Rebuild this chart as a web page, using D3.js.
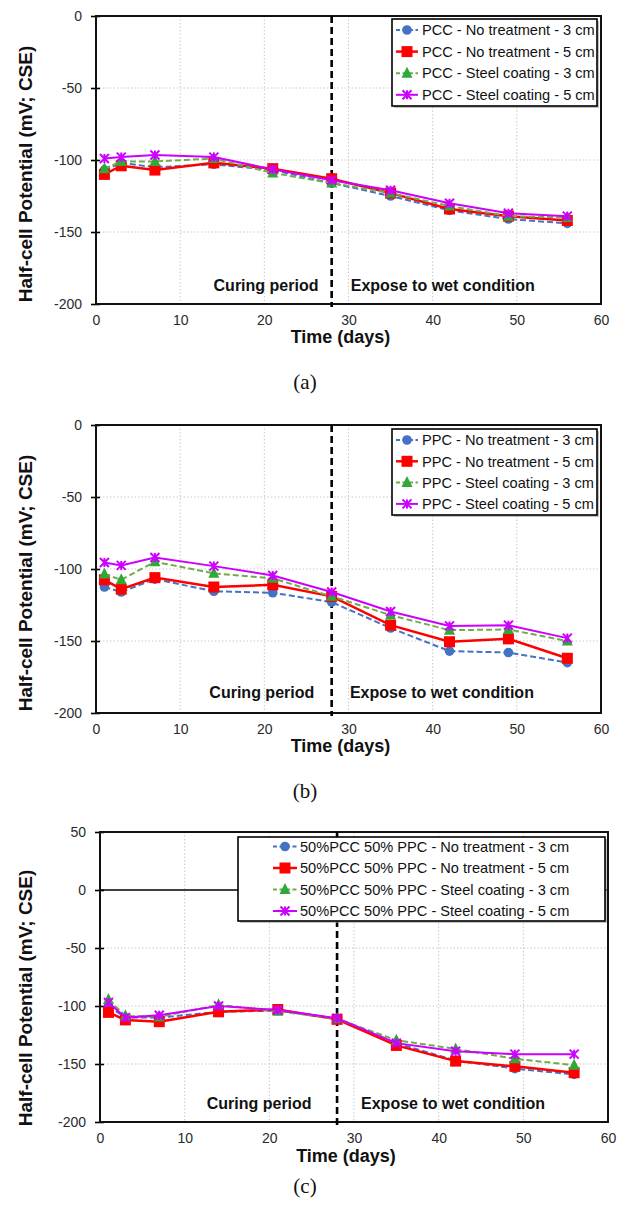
<!DOCTYPE html>
<html>
<head>
<meta charset="utf-8">
<script src="https://cdn.jsdelivr.net/npm/d3@7"></script>
<style>
body{margin:0;background:#fff;}
svg text{font-family:"Liberation Sans",Arial,sans-serif;}
</style>
</head>
<body>
<div id="chart"></div>
<script>
// data
var days=[1,3,7,14,21,28,35,42,49,56];
var xTicks=[0,10,20,30,40,50,60];
var yTicksAB=[0,-50,-100,-150,-200];
var yTicksC=[50,0,-50,-100,-150,-200];

var pccNo3=[-107,-102,-105,-103,-107,-116,-125,-135,-141,-144];
var pccNo5=[-110,-104,-107,-102,-106,-113,-123,-134,-139,-142];
var pccSc3=[-106,-101,-101,-99,-109,-116,-123,-132,-139,-140];
var pccSc5=[-99,-98,-96.5,-98,-106.5,-114,-121,-130,-137,-139];

var ppcNo3=[-112.5,-116,-107,-115.5,-116.5,-123,-141,-157,-158,-165];
var ppcNo5=[-107.5,-114,-106,-112.5,-111,-119,-139,-150.5,-148.5,-162];
var ppcSc3=[-103.5,-107.5,-95,-103,-106.5,-119,-132,-142.5,-142,-150];
var ppcSc5=[-95.5,-97.5,-92,-98,-104.5,-116,-129.5,-139.5,-139,-148];

var mixNo3=[-100,-110,-110,-105,-104,-111,-132,-147,-154,-159];
var mixNo5=[-105.5,-112,-113.5,-105,-103,-111.5,-134,-147.5,-152,-157.5];
var mixSc3=[-94.5,-108.5,-109.5,-99,-104.5,-111,-129.5,-137,-145.5,-151];
var mixSc5=[-97,-110,-108,-100,-103.5,-110.5,-132,-139,-141.5,-141.5];

var legendA=["PCC - No treatment - 3 cm","PCC - No treatment - 5 cm","PCC - Steel coating - 3 cm","PCC - Steel coating - 5 cm"];
var legendB=["PPC - No treatment - 3 cm","PPC - No treatment - 5 cm","PPC - Steel coating - 3 cm","PPC - Steel coating - 5 cm"];
var legendC=["50%PCC 50% PPC - No treatment - 3 cm","50%PCC 50% PPC - No treatment - 5 cm","50%PCC 50% PPC - Steel coating - 3 cm","50%PCC 50% PPC - Steel coating - 5 cm"];

var phaseDay=28;
var notes=["Curing period","Expose to wet condition"];
var yTitle="Half-cell Potential (mV; CSE)";
var xTitle="Time (days)";
var captions=["(a)","(b)","(c)"];

// series look (blue dashed circle, red square, green dashed triangle, violet star)
var styles=[
	{line:"#4472C4",fill:"#4472C4",dash:"6,3",width:2,marker:"circle"},
	{line:"#FF0000",fill:"#FF0000",dash:null,width:2.5,marker:"square"},
	{line:"#70AD47",fill:"#2EA836",dash:"6,3",width:2,marker:"triangle"},
	{line:"#CC00FF",fill:"#CC00FF",dash:null,width:2,marker:"star"}
];

var panels=[
	{series:[pccNo3,pccNo5,pccSc3,pccSc5],names:legendA,yDomain:[-200,0],yTicks:yTicksAB,
	 left:96,right:601,top:16,bottom:304,
	 leg:{x:392,y:19,w:205,h:87,lineX:396,lineW:22,textX:422,row0:30,rowH:21.6},
	 noteX:[20.2,41.2],noteY:-187,titleY:174,xTitleY:337,capY:382},
	{series:[ppcNo3,ppcNo5,ppcSc3,ppcSc5],names:legendB,yDomain:[-200,0],yTicks:yTicksAB,
	 left:96,right:601,top:425,bottom:713,
	 leg:{x:392,y:429,w:205,h:86,lineX:396,lineW:22,textX:422,row0:440,rowH:21.3},
	 noteX:[19.7,41.1],noteY:-186,titleY:583,xTitleY:746,capY:791},
	{series:[mixNo3,mixNo5,mixSc3,mixSc5],names:legendC,yDomain:[-200,50],yTicks:yTicksC,
	 left:100,right:608,top:832,bottom:1122,
	 leg:{x:238,y:837,w:367,h:84,lineX:273,lineW:24,textX:300,row0:846.5,rowH:21.5},
	 noteX:[18.8,41.7],noteY:-184,titleY:998,xTitleY:1156,capY:1186}
];

var svg=d3.select("#chart").append("svg").attr("width",625).attr("height",1211);

function plain(d){ return String(d); }

function drawMarker(g,kind,cx,cy,st){
	if(kind=="circle"){
		g.append("circle").attr("cx",cx).attr("cy",cy).attr("r",4.8).attr("fill",st.fill);
	}else if(kind=="square"){
		g.append("rect").attr("x",cx-5.5).attr("y",cy-5.5).attr("width",11).attr("height",11).attr("fill",st.fill);
	}else if(kind=="triangle"){
		g.append("path").attr("d","M"+cx+","+(cy-6.5)+"L"+(cx+5.5)+","+(cy+4.5)+"L"+(cx-5.5)+","+(cy+4.5)+"Z").attr("fill",st.fill);
	}else{
		var s=4.5;
		g.append("path")
			.attr("d","M"+(cx-s)+","+(cy-s)+"L"+(cx+s)+","+(cy+s)+"M"+(cx+s)+","+(cy-s)+"L"+(cx-s)+","+(cy+s)+"M"+cx+","+(cy-s)+"L"+cx+","+(cy+s))
			.attr("stroke",st.fill).attr("stroke-width",2).attr("fill","none");
	}
}

function drawPanel(p,idx){
	var x=d3.scaleLinear().domain([0,60]).range([p.left,p.right]);
	var y=d3.scaleLinear().domain(p.yDomain).range([p.bottom,p.top]);
	var g=svg.append("g");

	// dotted grid
	g.selectAll(".gx").data(xTicks.slice(1,-1)).enter().append("line")
		.attr("x1",function(d){return x(d);}).attr("x2",function(d){return x(d);})
		.attr("y1",p.top).attr("y2",p.bottom)
		.attr("stroke","#c9c9c9").attr("stroke-width",1).attr("stroke-dasharray","1.5,2");
	g.selectAll(".gy").data(p.yTicks.filter(function(d){return d!=0&&d!=p.yDomain[0]&&d!=p.yDomain[1];})).enter().append("line")
		.attr("x1",p.left).attr("x2",p.right)
		.attr("y1",function(d){return y(d);}).attr("y2",function(d){return y(d);})
		.attr("stroke","#c9c9c9").attr("stroke-width",1).attr("stroke-dasharray","1.5,2");

	// zero line
	g.append("line").attr("x1",p.left).attr("x2",p.right).attr("y1",y(0)).attr("y2",y(0))
		.attr("stroke","#000").attr("stroke-width",1.6);

	// axes
	var ya=g.append("g").attr("transform","translate("+p.left+",0)")
		.call(d3.axisLeft(y).tickValues(p.yTicks).tickFormat(plain).tickSize(5).tickPadding(9));
	ya.select(".domain").remove();
	ya.selectAll(".tick line").attr("x1",4).attr("stroke","#000").attr("stroke-width",1.6);
	ya.selectAll(".tick text").attr("font-size",14).attr("fill","#2a2a2a").attr("font-family","Liberation Sans, Arial, sans-serif");

	var xa=g.append("g").attr("transform","translate(0,"+p.bottom+")")
		.call(d3.axisBottom(x).tickValues(xTicks).tickFormat(plain).tickSize(0).tickPadding(11));
	xa.select(".domain").remove();
	xa.selectAll(".tick text").attr("font-size",14).attr("fill","#2a2a2a").attr("font-family","Liberation Sans, Arial, sans-serif");

	// plot border
	g.append("rect").attr("x",p.left).attr("y",p.top).attr("width",p.right-p.left).attr("height",p.bottom-p.top)
		.attr("fill","none").attr("stroke","#111").attr("stroke-width",2);

	// phase divider
	g.append("line").attr("x1",x(phaseDay)).attr("x2",x(phaseDay)).attr("y1",p.top).attr("y2",p.bottom+3)
		.attr("stroke","#000").attr("stroke-width",2.6).attr("stroke-dasharray","7,4");

	// notes
	for(var n=0;n<notes.length;n++){
		g.append("text").attr("x",x(p.noteX[n])).attr("y",y(p.noteY)).attr("dy","0.35em")
			.attr("text-anchor","middle").attr("font-family","Lato, sans-serif").attr("font-weight","bold")
			.attr("font-size",16).attr("fill","#111").text(notes[n]);
	}

	// series
	var line=d3.line().x(function(d){return x(d[0]);}).y(function(d){return y(d[1]);});
	for(var s=0;s<p.series.length;s++){
		var st=styles[s];
		var pts=days.map(function(d,i){return [d,p.series[s][i]];});
		var path=g.append("path").datum(pts).attr("d",line).attr("fill","none")
			.attr("stroke",st.line).attr("stroke-width",st.width);
		if(st.dash) path.attr("stroke-dasharray",st.dash);
		var mg=g.append("g");
		for(var k=0;k<pts.length;k++){
			drawMarker(mg,st.marker,x(pts[k][0]),y(pts[k][1]),st);
		}
	}

	// legend
	var L=p.leg;
	var lg=g.append("g");
	lg.append("rect").attr("x",L.x+2).attr("y",L.y+2).attr("width",L.w).attr("height",L.h).attr("fill","#9a9a9a").attr("opacity",0.6);
	lg.append("rect").attr("x",L.x).attr("y",L.y).attr("width",L.w).attr("height",L.h)
		.attr("fill","#fff").attr("stroke","#000").attr("stroke-width",1.6);
	for(var r=0;r<p.names.length;r++){
		var ry=L.row0+r*L.rowH;
		var st2=styles[r];
		var ln=lg.append("line").attr("x1",L.lineX).attr("x2",L.lineX+L.lineW).attr("y1",ry).attr("y2",ry)
			.attr("stroke",st2.line).attr("stroke-width",st2.width);
		if(st2.dash) ln.attr("stroke-dasharray","4,2.5");
		drawMarker(lg,st2.marker,L.lineX+L.lineW/2,ry,st2);
		lg.append("text").attr("x",L.textX).attr("y",ry).attr("dy","0.36em")
			.attr("font-size",14.6).attr("fill","#111").text(p.names[r]);
	}

	// titles
	svg.append("text").attr("transform","translate(25,"+p.titleY+") rotate(-90)")
		.attr("text-anchor","middle").attr("dy","0.35em").attr("font-size",19).attr("font-weight","bold")
		.attr("fill","#111").text(yTitle);
	svg.append("text").attr("x",(p.left+p.right)/2-8).attr("y",p.xTitleY).attr("dy","0.35em")
		.attr("text-anchor","middle").attr("font-size",18).attr("font-weight","bold").attr("fill","#111").text(xTitle);
	svg.append("text").attr("x",305).attr("y",p.capY).attr("dy","0.35em")
		.attr("text-anchor","middle").attr("font-size",21).attr("fill","#111")
		.style("font-family","'Liberation Serif','Times New Roman',serif").text(captions[idx]);
}

for(var i=0;i<panels.length;i++){
	drawPanel(panels[i],i);
}
</script>
</body>
</html>
